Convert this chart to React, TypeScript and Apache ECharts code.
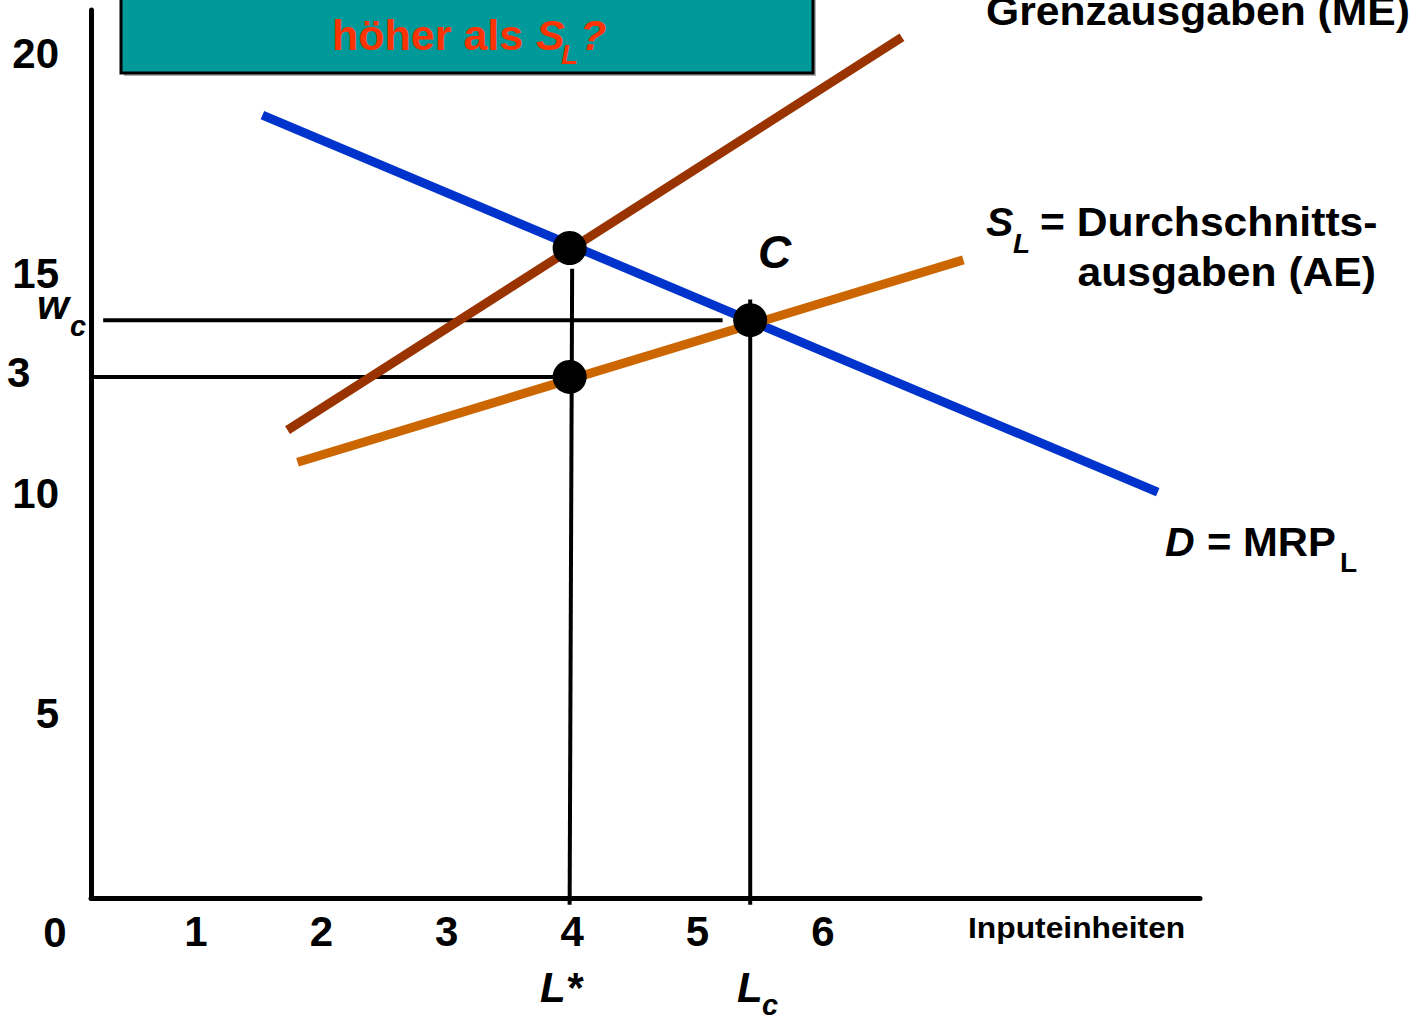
import React, { useEffect, useRef } from "react";
import * as echarts from "echarts";

// Axis tick labels (in chart units)
const xTickValues = [1, 2, 3, 4, 5, 6];
const yTickValues = [5, 10, 15, 20];
const xRange = [0.163, 9.007];
const yRange = [0.795, 20.98];

// Curves
const demandMRP = [
  [1.53, 18.59],
  [8.67, 10.02],
];
const marginalExpenditure = [
  [1.73, 11.43],
  [6.63, 20.36],
];
const averageExpenditure = [
  [1.81, 10.7],
  [7.12, 15.3],
];
const keyPoints = [
  [3.98, 15.57],
  [5.42, 13.93],
  [3.98, 12.64],
];
const wageCLine = [
  [0.26, 13.93],
  [5.2, 13.93],
];
const wageStarLine = [
  [0.163, 12.64],
  [3.98, 12.64],
];
const lStarLine = [
  [4.0, 15.1],
  [3.98, 0.64],
];
const lcLine = [
  [5.42, 14.4],
  [5.42, 0.64],
];

const FONT = '"Liberation Sans", Arial, Helvetica, sans-serif';

type TOpts = { italic?: boolean; color?: string; align?: string; scaleX?: number };
const txt = (text: string, x: number, y: number, size: number, o: TOpts = {}) => ({
  type: "text",
  x,
  y,
  scaleX: o.scaleX ?? 1,
  z: 100,
  silent: true,
  style: {
    text,
    fill: o.color ?? "#000",
    fontSize: size,
    fontWeight: "bold",
    fontStyle: o.italic ? "italic" : "normal",
    fontFamily: FONT,
    textAlign: o.align ?? "left",
    align: o.align ?? "left",
    textVerticalAlign: "middle",
    verticalAlign: "middle",
  },
});

export default function App() {
  const ref = useRef<HTMLDivElement>(null);
  useEffect(() => {
    if (!ref.current) return;
    const chart = echarts.init(ref.current, null, { renderer: "svg" });
    const red = "#FF3300";
    chart.setOption({
      animation: false,
      backgroundColor: "#fff",
      grid: { left: 91, top: 10, right: 224, bottom: 117, containLabel: false },
      xAxis: {
        type: "value",
        min: xRange[0],
        max: xRange[1],
        axisLine: { show: true, onZero: false, lineStyle: { color: "#000", width: 5 } },
        axisTick: { show: false },
        splitLine: { show: false },
        axisLabel: {
          customValues: xTickValues,
          margin: 12,
          fontSize: 42,
          fontWeight: "bold",
          fontFamily: FONT,
          color: "#000",
        },
      },
      yAxis: {
        type: "value",
        min: yRange[0],
        max: yRange[1],
        axisLine: { show: true, onZero: false, lineStyle: { color: "#000", width: 5 } },
        axisTick: { show: false },
        splitLine: { show: false },
        axisLabel: {
          customValues: yTickValues,
          margin: 32,
          fontSize: 42,
          fontWeight: "bold",
          fontFamily: FONT,
          color: "#000",
        },
      },
      series: [
        { type: "line", data: wageCLine, symbol: "none", clip: false, silent: true, lineStyle: { color: "#000", width: 4 }, z: 3 },
        { type: "line", data: wageStarLine, symbol: "none", clip: false, silent: true, lineStyle: { color: "#000", width: 4 }, z: 3 },
        { type: "line", data: lStarLine, symbol: "none", clip: false, silent: true, lineStyle: { color: "#000", width: 4 }, z: 3 },
        { type: "line", data: lcLine, symbol: "none", clip: false, silent: true, lineStyle: { color: "#000", width: 4 }, z: 3 },
        { type: "line", data: demandMRP, symbol: "none", clip: false, silent: true, lineStyle: { color: "#0033CC", width: 9, cap: "butt" }, z: 4 },
        { type: "line", data: marginalExpenditure, symbol: "none", clip: false, silent: true, lineStyle: { color: "#993300", width: 9, cap: "butt" }, z: 4 },
        { type: "line", data: averageExpenditure, symbol: "none", clip: false, silent: true, lineStyle: { color: "#CC6600", width: 9, cap: "butt" }, z: 4 },
        { type: "scatter", data: keyPoints, symbol: "circle", symbolSize: 34, silent: true, itemStyle: { color: "#000", opacity: 1 }, z: 6 },
      ],
      graphic: [
        { type: "rect", z: 90, silent: true, shape: { x: 124, y: -17, width: 692, height: 93 }, style: { fill: "#b0b0b0" } },
        { type: "rect", z: 91, silent: true, shape: { x: 121, y: -20, width: 692, height: 93 }, style: { fill: "#009999", stroke: "#000", lineWidth: 3 } },
        txt("höher als", 332, 35, 43, { color: red }),
        txt("S", 536, 35, 43, { color: red, italic: true }),
        txt("L", 561, 54, 28, { color: red, italic: true }),
        txt("?", 580, 35, 43, { color: red, italic: true }),
        txt("Grenzausgaben (ME)", 986, 11, 41, { scaleX: 1.04 }),
        txt("S", 986, 222, 41, { italic: true }),
        txt("L", 1013, 243, 28, { italic: true }),
        txt("= Durchschnitts-", 1040, 222, 41, { scaleX: 1.04 }),
        txt("ausgaben (AE)", 1376, 272, 41, { align: "right", scaleX: 1.04 }),
        txt("C", 758, 252, 46, { italic: true }),
        txt("D", 1165, 542, 41, { italic: true }),
        txt("= MRP", 1207, 542, 41, { scaleX: 1.02 }),
        txt("L", 1340, 562, 28),
        txt("L*", 540, 987, 42, { italic: true }),
        txt("L", 737, 987, 42, { italic: true }),
        txt("c", 762, 1005, 29, { italic: true }),
        txt("w", 37, 305, 41, { italic: true }),
        txt("c", 70, 326, 29, { italic: true }),
        txt("3", 7, 372, 42),
        txt("0", 55, 932, 42, { align: "center" }),
        txt("Inputeinheiten", 968, 928, 30, { scaleX: 1.06 }),
      ],
    });
    return () => chart.dispose();
  }, []);
  return (
    <div
      ref={ref}
      style={{ position: "fixed", left: 0, top: 0, width: 1424, height: 1015, background: "#fff" }}
    />
  );
}
